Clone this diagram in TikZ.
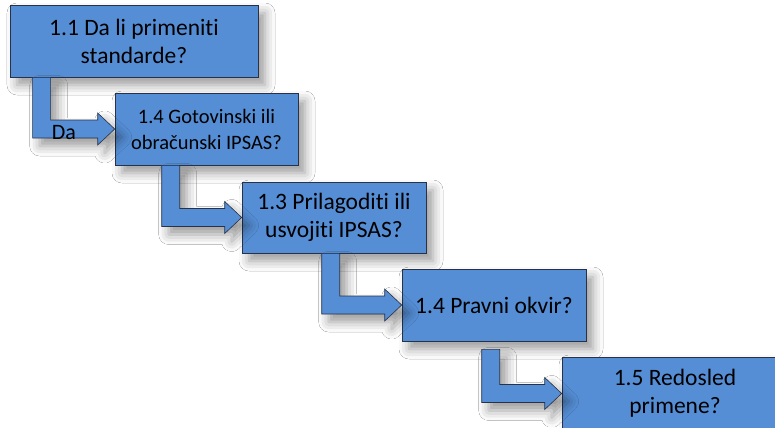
\documentclass[tikz,border=0pt]{standalone}
\usepackage{fontspec}
\setmainfont[Ligatures={NoCommon,NoRare,NoContextual}]{Carlito}
\usetikzlibrary{calc,shadows.blur}

\definecolor{boxblue}{RGB}{85,142,213}
\definecolor{boxline}{RGB}{40,50,70}

\newcommand{\bentarrow}[4]{%
  \draw[flow] let \p1=(#1.south west), \p2=(#2.west) in
    (\x1+#3,\y1-#4) -- (\x1+#3+18bp,\y1-#4) -- (\x1+#3+18bp,\y2+9bp)
    -- (\x2-17bp,\y2+9bp) -- (\x2-17bp,\y2+16bp) -- (\x2,\y2)
    -- (\x2-17bp,\y2-16bp) -- (\x2-17bp,\y2-9bp) -- (\x1+#3,\y2-9bp) -- cycle;}

\begin{document}
\begin{tikzpicture}[x=1bp,y=-1bp,
    softshadow/.style={blur shadow={shadow xshift=7bp,shadow yshift=-8bp,shadow blur radius=10bp,shadow opacity=40}},
    flow/.style={fill=boxblue,draw=boxline,line width=.6bp,softshadow}]

        \useasboundingbox (0,0) rectangle (775,427);
        \clip (0,0) rectangle (775,427);
        \fill[white] (0,0) rectangle (775,427);

        \begin{scope}[every node/.style={rectangle,fill=boxblue,draw=boxline,line width=.6bp,
            softshadow,align=center,inner sep=0pt,minimum height=72bp,
            font=\fontsize{23.5bp}{28bp}\selectfont}]
          \node[minimum width=248bp] (b1) at (134,41) {1.1 Da li primeniti\\standarde?};
          \node[minimum width=183bp,font=\fontsize{20.5bp}{26bp}\selectfont] (b2) at (206.5,129) {1.4 Gotovinski ili\\obračunski IPSAS?};
          \node[minimum width=184bp,minimum height=71bp] (b3) at (334,217.5) {1.3 Prilagoditi ili\\usvojiti IPSAS?};
          \node[minimum width=184bp] (b4) at (494,305) {1.4 Pravni okvir?};
          \node[minimum width=226bp,minimum height=73bp] (b5) at (675,393.5) {1.5 Redosled\\primene?};
        \end{scope}

        \bentarrow{b1}{b2}{23bp}{0bp}
        \bentarrow{b2}{b3}{47bp}{0bp}
        \bentarrow{b3}{b4}{80bp}{0bp}
        \bentarrow{b4}{b5}{80bp}{8bp}

        \node[font=\fontsize{22bp}{26bp}\selectfont,inner sep=0pt] (da) at (64,133) {Da};

      \end{tikzpicture}
\end{document}
